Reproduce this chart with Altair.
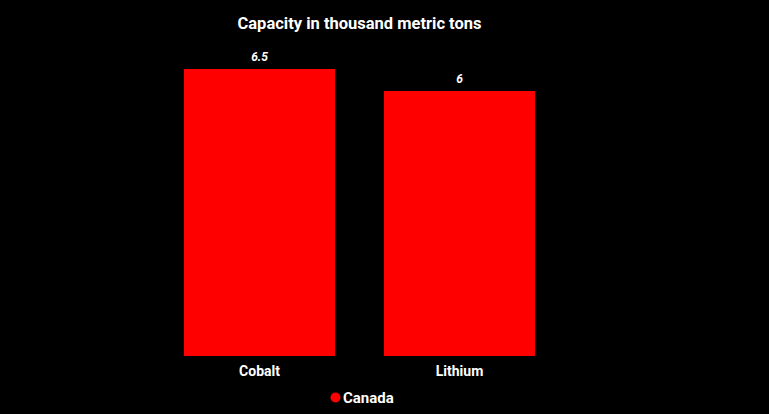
import altair as alt
import pandas as pd

categories = ["Cobalt", "Lithium"]
values = [6.5, 6]
series = ["Canada", "Canada"]
labels = ["6.5", "6"]

df = pd.DataFrame({"mineral": categories, "capacity": values, "country": series, "label": labels})

FONT = "Roboto"

base = alt.Chart(df).encode(
    x=alt.X("mineral:N", title=None, sort=categories,
            scale=alt.Scale(paddingInner=0.245, paddingOuter=0.1225),
            axis=alt.Axis(labelAngle=0, domain=False, ticks=False, grid=False,
                          labelColor="white", labelFont=FONT, labelFontSize=14,
                          labelFontWeight="bold", labelPadding=8)),
)

bars = base.mark_bar(color="#FF0000").encode(
    y=alt.Y("capacity:Q", title=None, scale=alt.Scale(domain=[0, 6.5], nice=False),
            axis=None),
    color=alt.Color("country:N", scale=alt.Scale(domain=["Canada"], range=["#FF0000"]),
                    legend=alt.Legend(title=None, orient="none", legendX=168.5, legendY=321,
                                      symbolType="circle", symbolSize=100,
                                      symbolStrokeWidth=0, symbolOpacity=1,
                                      labelColor="white", labelFont=FONT,
                                      labelFontSize=15, labelFontWeight="bold",
                                      labelOffset=0)),
)

text = base.mark_text(color="white", font=FONT, fontSize=12, fontStyle="italic",
                      fontWeight="bold", baseline="bottom", dy=-5).encode(
    y=alt.Y("capacity:Q"),
    text="label:N",
)

chart = alt.layer(bars, text).properties(
    width=400,
    height=287,
    background="black",
    autosize=alt.AutoSizeParams(type="none"),
    padding={"left": 151.5, "top": 61, "right": 201.5, "bottom": 50},
    title=alt.TitleParams("Capacity in thousand metric tons", color="white", font=FONT,
                          fontSize=16.5, fontWeight="bold", anchor="middle", offset=19),
).configure_view(stroke=None)

PAGE_TEMPLATE = """<!DOCTYPE html>
<html>
<head>
<meta charset="utf-8">
<style>
  html, body { background: #000; }
  #{{ output_div }}.vega-embed { width: 100%; display: flex; }
</style>
<script type="text/javascript" src="{{ base_url }}/vega@{{ vega_version }}"></script>
<script type="text/javascript" src="{{ base_url }}/vega-lite@{{ vegalite_version }}"></script>
<script type="text/javascript" src="{{ base_url }}/vega-embed@{{ vegaembed_version }}"></script>
</head>
<body>
<div id="{{ output_div }}"></div>
<script>
  var spec = {{ spec }};
  var embedOpt = {{ embed_options }};
  vegaEmbed("#{{ output_div }}", spec, embedOpt).catch(function (err) {
    document.getElementById("{{ output_div }}").innerHTML = String(err);
  });
</script>
</body>
</html>
"""

save_kwargs = {}
try:
    import jinja2
    save_kwargs["template"] = jinja2.Template(PAGE_TEMPLATE)
except Exception:
    save_kwargs = {}

try:
    chart.save("out.html", embed_options={"renderer": "svg", "actions": False}, **save_kwargs)
except Exception:
    chart.save("out.html", embed_options={"renderer": "svg", "actions": False})
